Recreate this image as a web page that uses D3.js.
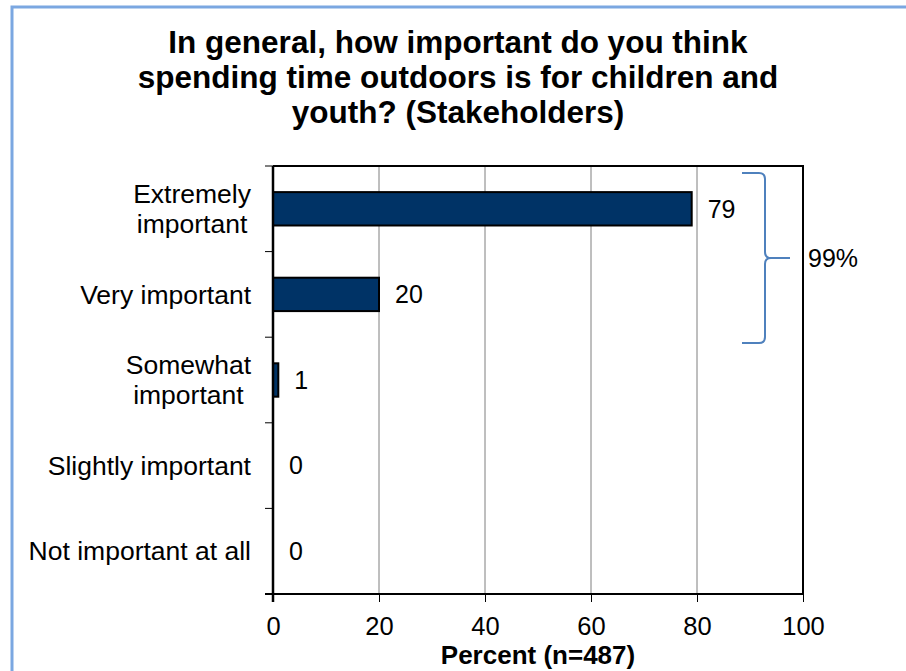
<!DOCTYPE html>
<html>
<head>
<meta charset="utf-8">
<script src="https://cdn.jsdelivr.net/npm/d3@7"></script>
<style>
  html, body { margin: 0; padding: 0; background: #fff; }
  svg { display: block; font-family: Arial, "Liberation Sans", sans-serif; }
</style>
</head>
<body>
<svg id="chart" width="906" height="671"></svg>
<script>
// Survey responses (percent of stakeholders)
const categories = [
  ["Extremely", "important"],
  ["Very important"],
  ["Somewhat", "important"],
  ["Slightly important"],
  ["Not important at all"]
];
const values = [79, 20, 1, 0, 0];
const xTicks = [0, 20, 40, 60, 80, 100];
const titleLines = [
  "In general, how important do you think",
  "spending time outdoors is for children and",
  "youth? (Stakeholders)"
];
const axisTitle = "Percent (n=487)";
const braceLabel = "99%";

const svg = d3.select("#chart");

// outer frame
svg.append("rect")
  .attr("x", 12).attr("y", 7)
  .attr("width", 1000).attr("height", 1000)
  .attr("fill", "none")
  .attr("stroke", "#7ba7e1")
  .attr("stroke-width", 3);

const plot = { left: 273, right: 803, top: 166, bottom: 594 };

const x = d3.scaleLinear().domain([0, 100]).range([plot.left, plot.right]);
const y = d3.scaleBand()
  .domain(d3.range(categories.length))
  .range([plot.top, plot.bottom])
  .paddingInner(0.61).paddingOuter(0.305);
const yTicksScale = d3.scaleLinear().domain([0, categories.length]).range([plot.top, plot.bottom]);

// title
svg.append("g").selectAll("text")
  .data(titleLines).join("text")
  .attr("x", 458)
  .attr("y", (d, i) => 53 + i * 35)
  .attr("text-anchor", "middle")
  .attr("font-size", 31.5)
  .attr("font-weight", "bold")
  .text(d => d);

// vertical gridlines
svg.append("g").selectAll("line")
  .data(xTicks.filter(t => t > 0 && t < 100)).join("line")
  .attr("x1", d => x(d)).attr("x2", d => x(d))
  .attr("y1", plot.top).attr("y2", plot.bottom)
  .attr("stroke", "#7f7f7f").attr("stroke-width", 1);

// plot frame (top and right)
svg.append("path")
  .attr("d", `M${plot.left},${plot.top}H${plot.right}V${plot.bottom}`)
  .attr("fill", "none").attr("stroke", "#000").attr("stroke-width", 2);

// bars
svg.append("g").selectAll("rect")
  .data(values).join("rect")
  .attr("x", x(0))
  .attr("y", (d, i) => y(i))
  .attr("width", d => x(d) - x(0))
  .attr("height", y.bandwidth())
  .attr("fill", "#003366")
  .attr("stroke", d => d > 0 ? "#000" : "none")
  .attr("stroke-width", 2);

// value labels
svg.append("g").selectAll("text")
  .data(values).join("text")
  .attr("x", d => x(d) + 16)
  .attr("y", (d, i) => y(i) + y.bandwidth() / 2)
  .attr("dy", "0.35em")
  .attr("font-size", 25)
  .text(d => d);

// x axis
const xAxis = d3.axisBottom(x).tickValues(xTicks).tickSize(8).tickPadding(15);
const gx = svg.append("g")
  .attr("transform", `translate(0,${plot.bottom})`)
  .call(xAxis);
gx.select(".domain").attr("stroke", "#000").attr("stroke-width", 2)
  .attr("d", `M${plot.left - 8},0H${plot.right}`);
gx.selectAll(".tick line").attr("stroke", "#000");
gx.selectAll(".tick text")
  .attr("font-size", 25.5).attr("font-family", "Arial, 'Liberation Sans', sans-serif")
  .attr("fill", "#000");

// y axis line with category separator ticks
svg.append("line")
  .attr("x1", plot.left).attr("x2", plot.left)
  .attr("y1", plot.top).attr("y2", plot.bottom + 8)
  .attr("stroke", "#000").attr("stroke-width", 2.5);
svg.append("g").selectAll("line")
  .data(d3.range(categories.length)).join("line")
  .attr("x1", plot.left - 8).attr("x2", plot.left)
  .attr("y1", d => yTicksScale(d)).attr("y2", d => yTicksScale(d))
  .attr("stroke", "#000").attr("stroke-width", 1);

// category labels: each block right-aligned to the axis, lines centred within it
const catG = svg.append("g").selectAll("text")
  .data(categories).join("text")
  .attr("text-anchor", "middle")
  .attr("font-size", 26.5)
  .attr("transform", (d, i) => `translate(0,${y(i) + y.bandwidth() / 2})`);
catG.each(function(lines) {
  const t = d3.select(this);
  const n = lines.length;
  const widths = lines.map(s => {
    const e = t.append("tspan").text(s);
    const w = e.node().getComputedTextLength();
    e.remove();
    return w;
  });
  const cx = 251 - d3.max(widths) / 2;
  lines.forEach((s, k) => {
    t.append("tspan")
      .attr("x", cx)
      .attr("y", (k - (n - 1) / 2) * 30)
      .attr("dy", "0.35em")
      .text(s);
  });
});

// axis title
svg.append("text")
  .attr("x", x(50))
  .attr("y", 664)
  .attr("text-anchor", "middle")
  .attr("font-size", 26)
  .attr("font-weight", "bold")
  .text(axisTitle);

// brace grouping the top two answers
const bTop = y(0) - 19, bBot = y(1) + y.bandwidth() + 32;
const bMid = (bTop + bBot) / 2;
const bx0 = 742, bx1 = 765, bTip = 790;
const r = 6;
const brace = d3.path();
brace.moveTo(bx0, bTop);
brace.lineTo(bx1 - r, bTop);
brace.quadraticCurveTo(bx1, bTop, bx1, bTop + r);
brace.lineTo(bx1, bMid - r);
brace.quadraticCurveTo(bx1, bMid, bx1 + r, bMid);
brace.lineTo(bTip, bMid);
brace.moveTo(bx1 + r, bMid);
brace.quadraticCurveTo(bx1, bMid, bx1, bMid + r);
brace.lineTo(bx1, bBot - r);
brace.quadraticCurveTo(bx1, bBot, bx1 - r, bBot);
brace.lineTo(bx0, bBot);
svg.append("path")
  .attr("d", brace.toString())
  .attr("fill", "none")
  .attr("stroke", "#4f81bd")
  .attr("stroke-width", 2);

svg.append("text")
  .attr("x", 808)
  .attr("y", bMid)
  .attr("dy", "0.35em")
  .attr("font-size", 25)
  .text(braceLabel);
</script>
</body>
</html>
